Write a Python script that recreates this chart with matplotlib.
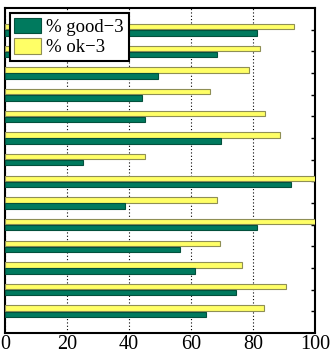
import matplotlib
matplotlib.use("Agg")
import matplotlib.pyplot as plt
import numpy as np

good3 = [81.4, 68.5, 49.2, 44.1, 45.2, 69.6, 25.0, 92.1, 38.6, 81.4, 56.5, 61.3, 74.4, 64.9]
ok3 = [93.2, 82.2, 78.8, 66.2, 83.8, 88.7, 45.0, 100.0, 68.3, 100.0, 69.3, 76.3, 90.6, 83.6]
xticks = [0, 20, 40, 60, 80, 100]
labels = ["% good\u22123", "% ok\u22123"]

plt.rcParams['font.family'] = ['Liberation Serif', 'DejaVu Serif']

fig = plt.figure(figsize=(3.32, 3.55), dpi=100)
ax = fig.add_axes([0.015, 0.062, 0.934, 0.915])

y = np.arange(len(good3))
h = 0.25
ax.barh(y - 0.145, ok3, height=h, color='#ffff66', edgecolor='#8f8f55', linewidth=0.8,
        label=labels[1], zorder=3)
ax.barh(y + 0.14, good3, height=h, color='#007a5e', edgecolor='#03503c', linewidth=0.8,
        label=labels[0], zorder=3)

ax.set_xlim(0, 100)
ax.set_ylim(14, -1)
ax.set_xticks(xticks)
ax.set_yticks(y)
ax.set_yticklabels([])
ax.tick_params(axis='x', length=0, labelsize=14.5, pad=1.5)
ax.tick_params(axis='y', direction='in', length=3, width=1, left=True, right=True)
ax.grid(axis='x', color='black', linestyle=(0, (1, 2)), linewidth=0.8, zorder=0)
ax.set_axisbelow(True)
for s in ax.spines.values():
    s.set_linewidth(1.5)

handles, labs = ax.get_legend_handles_labels()
leg = ax.legend(handles[::-1], labs[::-1], loc='upper left', fontsize=13.5,
                handlelength=1.4, handleheight=0.9, labelspacing=0.12,
                handletextpad=0.3, borderpad=0.25, borderaxespad=0.25,
                fancybox=False, framealpha=1, edgecolor='black')
leg.get_frame().set_linewidth(1.5)

fig.savefig("out.png", dpi=100)
